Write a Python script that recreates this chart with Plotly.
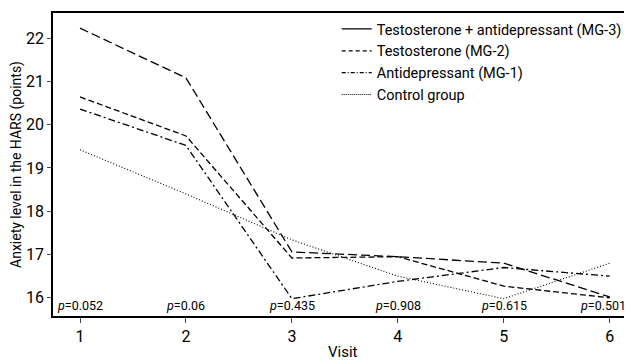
import plotly.graph_objects as go

visits = [1, 2, 3, 4, 5, 6]
mg3_testo_antidep = [20.64, 19.74, 16.92, 16.95, 16.27, 16.0]
mg2_testo = [22.23, 21.08, 17.06, 16.95, 16.8, 16.02]
mg1_antidep = [20.36, 19.52, 15.98, 16.38, 16.7, 16.5]
control = [19.42, 18.4, 17.34, 16.5, 15.98, 16.8]
p_values = ["0.052", "0.06", "0.435", "0.908", "0.615", "0.501"]

names = ["Testosterone + antidepressant (MG-3)", "Testosterone (MG-2)",
         "Antidepressant (MG-1)", "Control group"]
FONT = "Roboto, Liberation Sans, sans-serif"

fig = go.Figure()
series = [(mg3_testo_antidep, "6px,3px", "solid", 1.3),
          (mg2_testo, "9px,4px", "4px,3px", 1.3),
          (mg1_antidep, "7px,3px,2px,3px", "4px,2px,1px,2px", 1.3),
          (control, "1px,2px", "1px,1px", 1.1)]
for (vals, dash, ldash, w), name in zip(series, names):
    fig.add_trace(go.Scatter(x=visits, y=vals, mode="lines", showlegend=False,
                             line=dict(color="black", width=w, dash=dash)))
for (vals, dash, ldash, w), name in zip(series, names):
    fig.add_trace(go.Scatter(x=[None], y=[None], mode="lines", name=name,
                             line=dict(color="black", width=w, dash=ldash)))

for i, (v, p) in enumerate(zip(visits, p_values)):
    fig.add_annotation(x=v, y=15.83, text=f"<i>p</i>={p}", showarrow=False,
                       xshift=(-7 if i == len(visits) - 1 else 0),
                       font=dict(size=12.5, family=FONT, color="black"))

fig.add_annotation(x=0.5, y=0, xref="paper", yref="paper", yshift=-36,
                   text="Visit", showarrow=False, yanchor="middle",
                   font=dict(size=15, family=FONT, color="black"))

fig.update_layout(
    width=624, height=353,
    margin=dict(l=45, r=0, t=5, b=45, autoexpand=False),
    paper_bgcolor="white", plot_bgcolor="white",
    font=dict(family=FONT, size=15, color="black"),
    legend=dict(x=0.49, y=1.0, xanchor="left", yanchor="top",
                bgcolor="rgba(0,0,0,0)", itemwidth=30,
                font=dict(size=14.5, family=FONT), tracegroupgap=0),
    xaxis=dict(range=[0.745, 6.21], tickvals=visits, ticks="outside", ticklen=5,
               tickwidth=1.3, showline=True, linewidth=1.8, linecolor="black",
               mirror=True, showgrid=False, zeroline=False, automargin=False,
               tickfont=dict(size=16)),
    yaxis=dict(range=[15.58, 22.58], tickvals=[16, 17, 18, 19, 20, 21, 22],
               ticks="outside", ticklen=4, tickwidth=1.3, showline=True,
               linewidth=1.8, linecolor="black", showgrid=False, zeroline=False,
               automargin=False, tickfont=dict(size=16),
               title=dict(text="Anxiety level in the HARS (points)", standoff=1,
                          font=dict(size=14))),
)

fig.write_html("out.html")
